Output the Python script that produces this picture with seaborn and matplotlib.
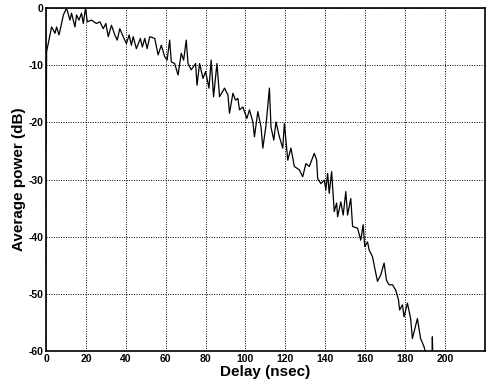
import matplotlib
matplotlib.use("Agg")
import matplotlib.pyplot as plt
import seaborn as sns
import pandas as pd

delay_ns = [0.0, 0.3, 1.5, 2.8, 4.5, 5.3, 6.5, 7.6, 8.7, 10.3, 12.0, 12.8, 14.5, 15.3, 16.5, 17.8,
            18.7, 19.8, 20.7, 22.8, 25.3, 27.0, 28.7, 30.0, 31.2, 32.8, 34.5, 35.7, 37.0,
            38.7, 40.3, 41.7, 42.8, 43.7, 45.3, 47.3, 48.3, 49.5, 50.7, 52.0, 54.5, 56.2, 57.8,
            59.5, 60.7, 62.0, 62.8, 64.5, 66.2, 67.8, 69.0, 70.3, 71.2, 72.8, 75.0, 75.7, 77.0,
            78.7, 80.0, 81.7, 82.8, 84.0, 85.7, 87.0, 89.5, 91.2, 92.0, 93.7, 95.0, 96.2, 97.0,
            98.7, 99.5, 100.7, 102.0, 103.7, 104.5, 106.2, 107.8, 108.7, 110.3, 112.0, 112.8,
            114.2, 115.3, 117.0, 118.7, 119.5, 121.2, 122.8, 124.5, 127.0, 128.7, 130.3, 132.0,
            134.5, 135.7, 136.2, 137.8, 139.5, 140.3, 141.2, 142.0, 143.2, 144.5, 145.7, 146.2,
            147.8, 149.0, 150.3, 151.2, 152.8, 153.7, 156.2, 157.8, 159.0, 159.8, 161.2, 162.0,
            163.7, 165.0, 166.2, 167.8, 169.5, 170.7, 172.0, 173.7, 175.3, 176.7, 177.3, 178.7,
            179.5, 181.2, 182.8, 183.7, 186.2, 187.8, 189.5, 190.3, 191.5, 193.5, 193.7, 194.0]
power_db = [-24.0, -7.6, -5.5, -3.3, -4.4, -3.3, -4.7, -3.0, -1.2, 0.0, -2.1, -0.9, -3.3, -1.2, -2.1, -0.9,
            -2.7, 0.0, -2.4, -2.1, -2.7, -2.4, -3.6, -2.7, -5.0, -3.0, -4.7, -5.6, -3.6,
            -5.0, -6.2, -4.7, -6.5, -5.0, -7.1, -5.3, -6.8, -5.3, -7.1, -5.0, -5.3, -8.2, -6.5,
            -8.5, -9.1, -5.6, -9.4, -9.7, -11.7, -7.9, -9.1, -5.6, -9.7, -10.8, -9.7, -13.5, -9.7,
            -12.3, -11.1, -14.0, -9.1, -15.5, -9.7, -15.5, -14.0, -15.2, -18.4, -14.9, -16.1, -15.8, -17.8,
            -17.3, -18.1, -19.3, -17.8, -19.9, -22.5, -18.1, -20.8, -24.5, -20.5, -14.0, -20.8,
            -23.1, -19.9, -22.5, -24.5, -20.2, -26.6, -24.5, -27.7, -28.3, -29.5, -27.2, -27.7,
            -25.4, -26.6, -29.8, -30.7, -30.1, -31.8, -28.9, -32.4, -28.6, -35.6, -34.1, -36.5,
            -33.9, -36.2, -32.1, -36.2, -33.3, -38.2, -38.5, -40.6, -37.9, -41.7, -40.9, -42.3,
            -43.5, -45.8, -47.8, -46.7, -44.6, -47.6, -48.4, -48.4, -49.3, -51.0, -52.8, -51.9,
            -54.0, -51.6, -54.3, -57.8, -54.3, -57.8, -59.2, -60.3, -62.0, -62.0, -57.5, -62.0]

x_ticks = [0, 20, 40, 60, 80, 100, 120, 140, 160, 180, 200]
y_ticks = [-60, -50, -40, -30, -20, -10, 0]

df = pd.DataFrame({"delay": delay_ns, "power": power_db})

sns.set_theme(style="white")
plt.rcParams["font.family"] = ["Liberation Sans", "DejaVu Sans"]
plt.rcParams["text.color"] = "black"
plt.rcParams["axes.labelcolor"] = "black"

fig = plt.figure(figsize=(4.87, 3.85), dpi=100)
ax = fig.add_axes([0.0945, 0.088, 0.901, 0.891])
sns.lineplot(data=df, x="delay", y="power", ax=ax, color="black", linewidth=0.9,
             estimator=None, sort=False)

ax.set_xlim(0, 220)
ax.set_ylim(-60, 0)
ax.set_xticks(x_ticks)
ax.set_yticks(y_ticks)
ax.set_xticklabels([str(t) for t in x_ticks], fontsize=7.5, fontweight="bold", color="black")
ax.set_yticklabels([str(t) for t in y_ticks], fontsize=7.5, fontweight="bold", color="black")
ax.tick_params(direction="in", length=3, width=0.8, colors="black", pad=2)
ax.grid(True, color="black", linestyle=(0, (1, 1.5)), linewidth=0.7)
for s in ax.spines.values():
    s.set_color("black")
    s.set_linewidth(1.2)
ax.set_xlabel("Delay (nsec)", fontsize=11, fontweight="bold", labelpad=1, color="black")
ax.set_ylabel("Average power (dB)", fontsize=11, fontweight="bold", labelpad=2, color="black")

fig.savefig("out.png", dpi=100, facecolor="white")
